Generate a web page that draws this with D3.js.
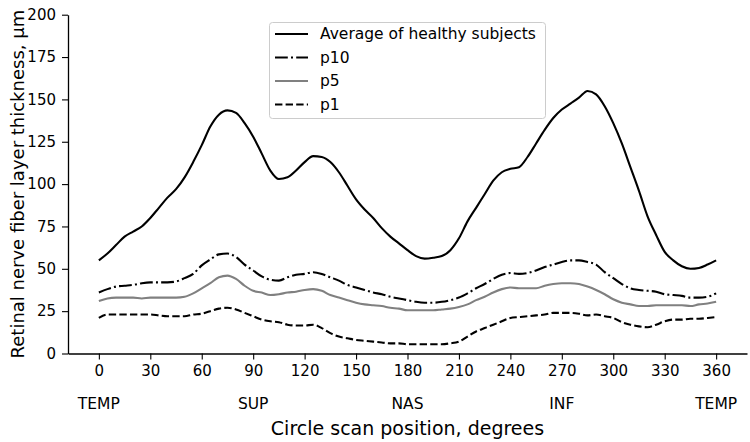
<!DOCTYPE html>
<html>
<head>
<meta charset="utf-8">
<script src="https://cdn.jsdelivr.net/npm/d3@7"></script>
<style>
  body { margin: 0; background: #fff; }
  svg { font-family: "DejaVu Sans", sans-serif; }
</style>
</head>
<body>
<svg></svg>
<script>
const width = 750;
const height = 442;

// angle grid, degrees
const degrees = d3.range(0, 361, 5);

// values, one per 5 degrees
const average = [55, 59, 64, 69, 72, 75, 80, 86, 92, 97, 104, 113, 123, 134, 141, 143.5, 142, 136, 128, 118,
  108, 103, 104, 108, 113, 116.5, 116, 113, 107, 99, 91, 85, 80, 74, 69, 65, 61, 57.5, 56, 56.5,
  57.5, 61, 68, 78, 86, 94, 102, 107, 109, 110, 116, 124, 132, 139, 144, 147.5, 151, 155, 153, 146,
  136, 124, 110, 96, 81, 70, 60, 55, 51.5, 50, 50.5, 52.5, 55];
const p10 = [36, 38, 39.5, 40, 40.5, 41.5, 42, 42, 42, 42.5, 44.5, 47, 52, 55.5, 58.5, 59, 57, 52.5, 49, 45.5,
  43.5, 43, 45, 46.5, 47, 48, 47, 45, 43, 40.5, 39, 37.5, 36, 35, 33.5, 32.5, 31.5, 30.5, 30, 30,
  30.5, 31.5, 33, 35.5, 38.5, 41, 44, 46.5, 47.5, 47, 47.5, 49, 51, 52.5, 54, 55, 55, 54, 52.5, 48,
  44.5, 41, 38.5, 37.5, 37, 36.5, 35, 34.5, 34, 33, 33, 33.5, 35.5];
const p5 = [31, 32.5, 33, 33, 33, 32.5, 33, 33, 33, 33, 33.5, 35.5, 38.5, 41.5, 45, 46, 44, 40, 37, 36,
  34.5, 35, 36, 36.5, 37.5, 38, 37, 34.5, 33, 31.5, 30, 29, 28.5, 28, 27, 26.5, 25.5, 25.5, 25.5, 25.5,
  26, 26.5, 27.5, 29, 31.5, 33.5, 36, 38, 39, 38.5, 38.5, 38.5, 40, 41, 41.5, 41.5, 41, 39.5, 37.5, 35,
  32, 30, 29, 28, 28, 28.5, 28.5, 28.5, 28.5, 28, 29, 29.5, 30.5];
const p1 = [21, 23, 23, 23, 23, 23, 23, 22.5, 22, 22, 22, 23, 23.5, 25, 26.5, 27, 26, 24, 22, 20,
  19, 18.5, 17, 16.5, 16.5, 17, 15, 12, 10, 9, 8, 7.5, 7, 6.5, 6, 6, 5.5, 5.5, 5.5, 5.5,
  5.5, 6, 7, 10, 13, 15, 17, 19, 21, 21.5, 22, 22.5, 23, 24, 24, 24, 23.5, 22.5, 23, 22,
  21, 18.5, 17, 16, 15.5, 17, 19, 20, 20, 20.5, 20.5, 21, 21.5];

const xTicks = d3.range(0, 361, 30);
const yTicks = [0, 25, 50, 75, 100, 125, 150, 175, 200];
const regions = [{deg: 0, name: "TEMP"}, {deg: 90, name: "SUP"}, {deg: 180, name: "NAS"},
  {deg: 270, name: "INF"}, {deg: 360, name: "TEMP"}];

const series = [
  {name: "Average of healthy subjects", values: average, color: "#000", dash: null},
  {name: "p10", values: p10, color: "#000", dash: "12.8,3.2,2,3.2"},
  {name: "p5", values: p5, color: "#808080", dash: null},
  {name: "p1", values: p1, color: "#000", dash: "7.4,3.2"}
];

let svg = d3.select("svg")
    .attr("width", width)
    .attr("height", height);

// plot box
const plotLeft = 68, plotRight = 747, plotTop = 14.7, plotBottom = 353.5;

let scaleX = d3.scaleLinear().domain([-18, 378]).range([plotLeft, plotRight]);
let scaleY = d3.scaleLinear().domain([0, 200]).range([plotBottom, plotTop]);

// axes
let gx = svg.append("g")
    .attr("transform", `translate(0, ${plotBottom})`)
    .call(d3.axisBottom(scaleX).tickValues(xTicks).tickSize(6).tickSizeOuter(0).tickPadding(6));
let gy = svg.append("g")
    .attr("transform", `translate(${plotLeft}, 0)`)
    .call(d3.axisLeft(scaleY).tickValues(yTicks).tickSize(6).tickSizeOuter(0).tickPadding(6));

[gx, gy].forEach(g => {
  g.selectAll("text").attr("font-size", 15).attr("fill", "#000").attr("font-family", "DejaVu Sans");
  g.selectAll("line").attr("stroke", "#000").attr("stroke-width", 1.1);
  g.select(".domain").attr("stroke", "#000").attr("stroke-width", 1.3);
});

// lines
const line = d3.line()
    .x((d, i) => scaleX(degrees[i]))
    .y(d => scaleY(d))
    .curve(d3.curveMonotoneX);

series.forEach(s => {
  svg.append("path")
    .datum(s.values)
    .attr("fill", "none")
    .attr("stroke", s.color)
    .attr("stroke-width", 2.1)
    .attr("stroke-dasharray", s.dash)
    .attr("d", line);
});

// region labels under the ticks
svg.append("g").selectAll("text")
  .data(regions)
  .enter()
  .append("text")
  .attr("x", d => scaleX(d.deg))
  .attr("y", 408.5)
  .attr("text-anchor", "middle")
  .attr("font-size", 15.5)
  .text(d => d.name);

// axis titles
svg.append("text")
  .attr("x", (plotLeft + plotRight) / 2)
  .attr("y", 435)
  .attr("text-anchor", "middle")
  .attr("font-size", 19)
  .text("Circle scan position, degrees");

svg.append("text")
  .attr("transform", `translate(24, ${(plotTop + plotBottom) / 2}) rotate(-90)`)
  .attr("text-anchor", "middle")
  .attr("font-size", 18)
  .text("Retinal nerve fiber layer thickness, µm");

// legend
let legend = svg.append("g");
legend.append("rect")
  .attr("x", 269.5).attr("y", 22.5)
  .attr("width", 276).attr("height", 96)
  .attr("rx", 3)
  .attr("fill", "#fff").attr("fill-opacity", 0.8)
  .attr("stroke", "#ccc");

series.forEach((s, i) => {
  const y = 34 + i * 23.5;
  legend.append("line")
    .attr("x1", 275).attr("x2", 308)
    .attr("y1", y).attr("y2", y)
    .attr("stroke", s.color)
    .attr("stroke-width", 2.1)
    .attr("stroke-dasharray", s.dash);
  legend.append("text")
    .attr("x", 320).attr("y", y)
    .attr("dy", "0.35em")
    .attr("font-size", 15.5)
    .text(s.name);
});
</script>
</body>
</html>
